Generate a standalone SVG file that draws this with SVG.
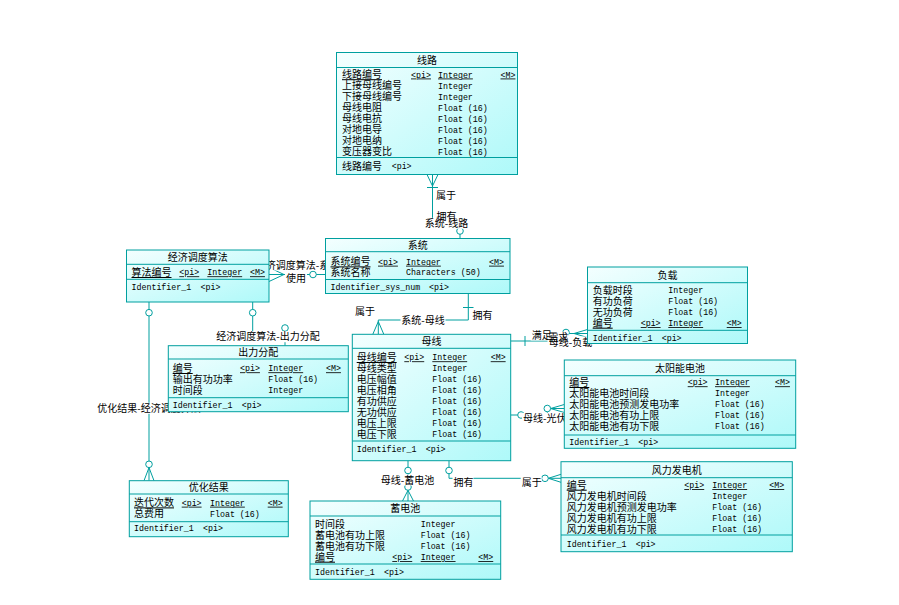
<svg xmlns="http://www.w3.org/2000/svg" width="899" height="605" viewBox="0 0 899 605">
<style>
.box{fill:url(#g);stroke:#009f9f;stroke-width:1}
.sep{stroke:#009f9f;stroke-width:1}
.cj{font-family:"Noto Sans CJK SC","Liberation Sans",sans-serif;font-size:10px;fill:#000}
.mo{font-family:"Liberation Mono","DejaVu Sans Mono",monospace;font-size:8.3px;fill:#000}
.ti{text-anchor:middle}
.u{text-decoration:underline}
.ln{stroke:#009f9f;fill:none;stroke-width:1}
.ci{fill:#fff;stroke:#009f9f;stroke-width:1}
.bg{fill:#fff}
.lb{font-family:"Noto Sans CJK SC","Liberation Sans",sans-serif;font-size:10px;fill:#000}
</style>
<defs>
<linearGradient id="g" x1="0" y1="0" x2="1" y2="1">
<stop offset="0" stop-color="#f4ffff"/>
<stop offset="1" stop-color="#aef9f9"/>
</linearGradient>
</defs>
<rect width="899" height="605" fill="#fff"/>

<g id="connectors">
<path class="ln" d="M432.5,174.5 V222 H460 V238.5"/>
<path class="ln" d="M427,174.5 L432.5,186 M438,174.5 L432.5,186 M427,187.5 H438"/>
<circle class="ci" cx="460" cy="231" r="3.3"/>
<path class="ln" d="M468.3,293.5 V320 H378.3 V334.3"/>
<path class="ln" d="M463,307.5 H473.5 M372.8,334.3 L378.3,321.5 M383.8,334.3 L378.3,321.5"/>
<path class="ln" d="M269,274.5 H325.5"/>
<path class="ln" d="M269,267.5 L284,274.5 M269,281.5 L284,274.5"/>
<circle class="ci" cx="313" cy="274.5" r="3.3"/>
<path class="ln" d="M252.7,302 V337 H285 V345.7 M285,331.3 V337"/>
<circle class="ci" cx="252.7" cy="312.7" r="3.3"/>
<circle class="ci" cx="285" cy="328" r="3.3"/>
<path class="ln" d="M149,302 V480.7"/>
<circle class="ci" cx="149" cy="312.7" r="3.3"/>
<path class="ln" d="M144,480.7 L149,467.6 M154,480.7 L149,467.6"/>
<circle class="ci" cx="149" cy="464.3" r="3.3"/>
<path class="ln" d="M510.7,341 H552 V333.5 H587.5"/>
<path class="ln" d="M525,336 V346 M587.5,329.5 L574,333.5 M587.5,337.5 L574,333.5"/>
<circle class="ci" cx="566" cy="332.5" r="3.3"/>
<path class="ln" d="M510.7,415 H547.3 V408.5 H564.3"/>
<circle class="ci" cx="521" cy="415" r="3.3"/>
<path class="ln" d="M564.3,404.5 L550.6,408.5 M564.3,412.5 L550.6,408.5"/>
<circle class="ci" cx="547.3" cy="408.5" r="3.3"/>
<path class="ln" d="M408,460.7 V501"/>
<circle class="ci" cx="408" cy="470.5" r="3.3"/>
<path class="ln" d="M402.5,501 L408,490.3 M413.5,501 L408,490.3"/>
<circle class="ci" cx="408" cy="487" r="3.3"/>
<path class="ln" d="M449,460.7 V478.3 H561"/>
<circle class="ci" cx="449" cy="470.5" r="3.3"/>
<path class="ln" d="M561,474.3 L548.3,478.3 M561,482.3 L548.3,478.3"/>
<circle class="ci" cx="545" cy="478.3" r="3.3"/>
</g>

<g id="labels">
<rect class="bg" x="435" y="190.5" width="21" height="11"/>
<rect class="bg" x="435.5" y="211.5" width="21" height="11"/>
<rect class="bg" x="424" y="217.8" width="45" height="11"/>
<rect class="bg" x="354" y="306.2" width="21" height="11"/>
<rect class="bg" x="471.5" y="309.5" width="21" height="11"/>
<rect class="bg" x="400.5" y="314.5" width="45" height="11"/>
<rect class="bg" x="255" y="259.5" width="86" height="11"/>
<rect class="bg" x="285" y="272.8" width="22" height="11"/>
<rect class="bg" x="215.5" y="331.2" width="105" height="11"/>
<rect class="bg" x="96.5" y="402.8" width="105" height="11"/>
<rect class="bg" x="530.7" y="329.5" width="21" height="11"/>
<rect class="bg" x="547.5" y="331.8" width="21" height="11"/>
<rect class="bg" x="548" y="336.5" width="45" height="11"/>
<rect class="bg" x="522" y="412.8" width="45" height="11"/>
<rect class="bg" x="381" y="474.5" width="54" height="11"/>
<rect class="bg" x="452.5" y="476.5" width="21" height="11"/>
<rect class="bg" x="520.7" y="477" width="21" height="11"/>
<text class="lb" x="436" y="199.4">属于</text>
<text class="lb" x="436.5" y="220.4">拥有</text>
<text class="lb ti" x="446.5" y="226.8">系统-线路</text>
<text class="lb" x="355" y="315.2">属于</text>
<text class="lb" x="472.5" y="318.5">拥有</text>
<text class="lb ti" x="423" y="323.5">系统-母线</text>
<text class="lb ti" x="297.5" y="268.5">经济调度算法-系统</text>
<text class="lb ti" x="296" y="281.8">使用</text>
<text class="lb ti" x="268" y="340.2">经济调度算法-出力分配</text>
<text class="lb ti" x="149" y="411.8">优化结果-经济调度算法</text>
<text class="lb" x="531.7" y="338.5">满足</text>
<text class="lb" x="548.3" y="340.8">需求</text>
<text class="lb" x="548.7" y="345.5">母线-负载</text>
<text class="lb" x="523" y="421.8">母线-光伏</text>
<text class="lb ti" x="407.5" y="483.5">母线-蓄电池</text>
<text class="lb" x="453.5" y="485.5">拥有</text>
<text class="lb" x="521.7" y="486">属于</text>
</g>

<g id="node-xianlu">
<rect class="box" x="336.5" y="52.5" width="181" height="122"/>
<line class="sep" x1="336.5" y1="67.5" x2="517.5" y2="67.5"/>
<line class="sep" x1="336.5" y1="157.5" x2="517.5" y2="157.5"/>
<text class="cj ti" x="427" y="63.7">线路</text>
<text class="cj u" x="342" y="78.2">线路编号</text><text class="mo u" x="411" y="77.5">&lt;pi&gt;</text><text class="mo u" x="438" y="77.5">Integer</text><text class="mo u" x="500.5" y="77.5">&lt;M&gt;</text>
<text class="cj" x="342" y="89.2">上接母线编号</text><text class="mo" x="438" y="88.5">Integer</text>
<text class="cj" x="342" y="100.2">下接母线编号</text><text class="mo" x="438" y="99.5">Integer</text>
<text class="cj" x="342" y="111.2">母线电阻</text><text class="mo" x="438" y="110.5">Float (16)</text>
<text class="cj" x="342" y="122.2">母线电抗</text><text class="mo" x="438" y="121.5">Float (16)</text>
<text class="cj" x="342" y="133.2">对地电导</text><text class="mo" x="438" y="132.5">Float (16)</text>
<text class="cj" x="342" y="144.2">对地电纳</text><text class="mo" x="438" y="143.5">Float (16)</text>
<text class="cj" x="342" y="155.2">变压器变比</text><text class="mo" x="438" y="154.5">Float (16)</text>
<text class="cj" x="342" y="169.7">线路编号</text><text class="mo" x="391.7" y="169">&lt;pi&gt;</text>
</g>

<g id="node-xitong">
<rect class="box" x="325.5" y="238.5" width="184.5" height="55"/>
<line class="sep" x1="325.5" y1="251.7" x2="510" y2="251.7"/>
<line class="sep" x1="325.5" y1="279.5" x2="510" y2="279.5"/>
<text class="cj ti" x="417.7" y="249.2">系统</text>
<text class="cj u" x="330.5" y="265.4">系统编号</text><text class="mo u" x="378" y="264.7">&lt;pi&gt;</text><text class="mo u" x="406" y="264.7">Integer</text><text class="mo u" x="489" y="264.7">&lt;M&gt;</text>
<text class="cj" x="330.5" y="276">系统名称</text><text class="mo" x="406" y="275.3">Characters (50)</text>
<text class="mo" x="330.5" y="289.7">Identifier_sys_num</text><text class="mo" x="429" y="289.7">&lt;pi&gt;</text>
</g>

<g id="node-jingji">
<rect class="box" x="126.5" y="250" width="142.5" height="52"/>
<line class="sep" x1="126.5" y1="264.3" x2="269" y2="264.3"/>
<line class="sep" x1="126.5" y1="279.3" x2="269" y2="279.3"/>
<text class="cj ti" x="197.7" y="260.7">经济调度算法</text>
<text class="cj u" x="131.5" y="276">算法编号</text><text class="mo u" x="179.3" y="275.3">&lt;pi&gt;</text><text class="mo u" x="207.3" y="275.3">Integer</text><text class="mo u" x="250" y="275.3">&lt;M&gt;</text>
<text class="mo" x="131.5" y="289.7">Identifier_1</text><text class="mo" x="200.5" y="289.7">&lt;pi&gt;</text>
</g>

<g id="node-fuzai">
<rect class="box" x="587.5" y="267" width="160" height="76.5"/>
<line class="sep" x1="587.5" y1="282.7" x2="747.5" y2="282.7"/>
<line class="sep" x1="587.5" y1="330.3" x2="747.5" y2="330.3"/>
<text class="cj ti" x="667.5" y="279">负载</text>
<text class="cj" x="592.7" y="293.7">负载时段</text><text class="mo" x="668.3" y="293">Integer</text>
<text class="cj" x="592.7" y="304.7">有功负荷</text><text class="mo" x="668.3" y="304">Float (16)</text>
<text class="cj" x="592.7" y="315.7">无功负荷</text><text class="mo" x="668.3" y="315">Float (16)</text>
<text class="cj u" x="592.7" y="326.7">编号</text><text class="mo u" x="640.7" y="326">&lt;pi&gt;</text><text class="mo u" x="668.3" y="326">Integer</text><text class="mo u" x="726.7" y="326">&lt;M&gt;</text>
<text class="mo" x="592.7" y="341">Identifier_1</text><text class="mo" x="661.7" y="341">&lt;pi&gt;</text>
</g>

<g id="node-muxian">
<rect class="box" x="352.3" y="334.3" width="158.4" height="126.4"/>
<line class="sep" x1="352.3" y1="348.3" x2="510.7" y2="348.3"/>
<line class="sep" x1="352.3" y1="441" x2="510.7" y2="441"/>
<text class="cj ti" x="431.5" y="345.4">母线</text>
<text class="cj u" x="356.7" y="361">母线编号</text><text class="mo u" x="404.3" y="360.3">&lt;pi&gt;</text><text class="mo u" x="432.3" y="360.3">Integer</text><text class="mo u" x="490.7" y="360.3">&lt;M&gt;</text>
<text class="cj" x="356.7" y="372">母线类型</text><text class="mo" x="432.3" y="371.3">Integer</text>
<text class="cj" x="356.7" y="383">电压幅值</text><text class="mo" x="432.3" y="382.3">Float (16)</text>
<text class="cj" x="356.7" y="394">电压相角</text><text class="mo" x="432.3" y="393.3">Float (16)</text>
<text class="cj" x="356.7" y="405">有功供应</text><text class="mo" x="432.3" y="404.3">Float (16)</text>
<text class="cj" x="356.7" y="416">无功供应</text><text class="mo" x="432.3" y="415.3">Float (16)</text>
<text class="cj" x="356.7" y="427">电压上限</text><text class="mo" x="432.3" y="426.3">Float (16)</text>
<text class="cj" x="356.7" y="438">电压下限</text><text class="mo" x="432.3" y="437.3">Float (16)</text>
<text class="mo" x="356.7" y="452">Identifier_1</text><text class="mo" x="425.7" y="452">&lt;pi&gt;</text>
</g>

<g id="node-chuli">
<rect class="box" x="168.3" y="345.7" width="180" height="66"/>
<line class="sep" x1="168.3" y1="359" x2="348.3" y2="359"/>
<line class="sep" x1="168.3" y1="397.7" x2="348.3" y2="397.7"/>
<text class="cj ti" x="258.3" y="356">出力分配</text>
<text class="cj u" x="172.7" y="372">编号</text><text class="mo u" x="240" y="371.3">&lt;pi&gt;</text><text class="mo u" x="268.3" y="371.3">Integer</text><text class="mo u" x="326" y="371.3">&lt;M&gt;</text>
<text class="cj" x="172.7" y="383">输出有功功率</text><text class="mo" x="268.3" y="382.3">Float (16)</text>
<text class="cj" x="172.7" y="394">时间段</text><text class="mo" x="268.3" y="393.3">Integer</text>
<text class="mo" x="172.7" y="408">Identifier_1</text><text class="mo" x="241.7" y="408">&lt;pi&gt;</text>
</g>

<g id="node-taiyang">
<rect class="box" x="564.3" y="360" width="231.4" height="88.3"/>
<line class="sep" x1="564.3" y1="375.7" x2="795.7" y2="375.7"/>
<line class="sep" x1="564.3" y1="435" x2="795.7" y2="435"/>
<text class="cj ti" x="680" y="372">太阳能电池</text>
<text class="cj u" x="569.3" y="386">编号</text><text class="mo u" x="687.7" y="385.3">&lt;pi&gt;</text><text class="mo u" x="715" y="385.3">Integer</text><text class="mo u" x="775" y="385.3">&lt;M&gt;</text>
<text class="cj" x="569.3" y="397">太阳能电池时间段</text><text class="mo" x="715" y="396.3">Integer</text>
<text class="cj" x="569.3" y="408">太阳能电池预测发电功率</text><text class="mo" x="715" y="407.3">Float (16)</text>
<text class="cj" x="569.3" y="419">太阳能电池有功上限</text><text class="mo" x="715" y="418.3">Float (16)</text>
<text class="cj" x="569.3" y="430">太阳能电池有功下限</text><text class="mo" x="715" y="429.3">Float (16)</text>
<text class="mo" x="569.3" y="445.3">Identifier_1</text><text class="mo" x="638.3" y="445.3">&lt;pi&gt;</text>
</g>

<g id="node-youhua">
<rect class="box" x="129.3" y="480.7" width="159" height="56"/>
<line class="sep" x1="129.3" y1="494" x2="288.3" y2="494"/>
<line class="sep" x1="129.3" y1="521.7" x2="288.3" y2="521.7"/>
<text class="cj ti" x="208.8" y="491.4">优化结果</text>
<text class="cj u" x="134" y="506.4">迭代次数</text><text class="mo u" x="181.7" y="505.7">&lt;pi&gt;</text><text class="mo u" x="210" y="505.7">Integer</text><text class="mo u" x="267.7" y="505.7">&lt;M&gt;</text>
<text class="cj" x="134" y="517.4">总费用</text><text class="mo" x="210" y="516.7">Float (16)</text>
<text class="mo" x="134" y="531">Identifier_1</text><text class="mo" x="203" y="531">&lt;pi&gt;</text>
</g>

<g id="node-xudianchi">
<rect class="box" x="310" y="501" width="190.7" height="78.3"/>
<line class="sep" x1="310" y1="516" x2="500.7" y2="516"/>
<line class="sep" x1="310" y1="564" x2="500.7" y2="564"/>
<text class="cj ti" x="405.3" y="512">蓄电池</text>
<text class="cj" x="315" y="528">时间段</text><text class="mo" x="420.7" y="527.3">Integer</text>
<text class="cj" x="315" y="539">蓄电池有功上限</text><text class="mo" x="420.7" y="538.3">Float (16)</text>
<text class="cj" x="315" y="550">蓄电池有功下限</text><text class="mo" x="420.7" y="549.3">Float (16)</text>
<text class="cj u" x="315" y="560.7">编号</text><text class="mo u" x="392.3" y="560">&lt;pi&gt;</text><text class="mo u" x="420.7" y="560">Integer</text><text class="mo u" x="478.3" y="560">&lt;M&gt;</text>
<text class="mo" x="315" y="575.3">Identifier_1</text><text class="mo" x="384" y="575.3">&lt;pi&gt;</text>
</g>

<g id="node-fengli">
<rect class="box" x="561" y="461.7" width="231.3" height="90"/>
<line class="sep" x1="561" y1="477.7" x2="792.3" y2="477.7"/>
<line class="sep" x1="561" y1="535" x2="792.3" y2="535"/>
<text class="cj ti" x="676.7" y="473.7">风力发电机</text>
<text class="cj u" x="566.7" y="488.7">编号</text><text class="mo u" x="684.3" y="488">&lt;pi&gt;</text><text class="mo u" x="712.3" y="488">Integer</text><text class="mo u" x="769.3" y="488">&lt;M&gt;</text>
<text class="cj" x="566.7" y="499.7">风力发电机时间段</text><text class="mo" x="712.3" y="499">Integer</text>
<text class="cj" x="566.7" y="510.7">风力发电机预测发电功率</text><text class="mo" x="712.3" y="510">Float (16)</text>
<text class="cj" x="566.7" y="521.7">风力发电机有功上限</text><text class="mo" x="712.3" y="521">Float (16)</text>
<text class="cj" x="566.7" y="532.7">风力发电机有功下限</text><text class="mo" x="712.3" y="532">Float (16)</text>
<text class="mo" x="566.7" y="547">Identifier_1</text><text class="mo" x="635.7" y="547">&lt;pi&gt;</text>
</g>
</svg>
